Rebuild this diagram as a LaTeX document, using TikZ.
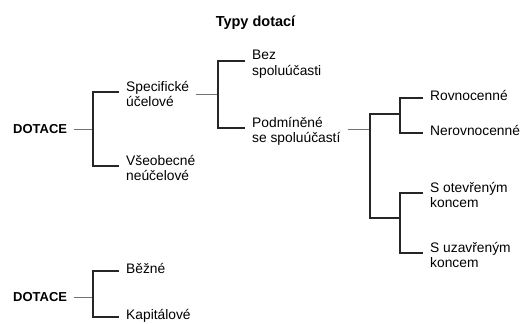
\documentclass[tikz,border=0pt]{standalone}
\usepackage{fontspec}
\setmainfont{Liberation Sans}
\begin{document}
\begin{tikzpicture}[x=1pt, y=-1pt,
    label/.style={anchor=north west, align=left, inner xsep=7pt, inner ysep=0pt,
      execute at begin node={\rule{0pt}{13pt}}, font=\fontsize{13.8}{15.5}\selectfont},
    root/.style={anchor=west, inner xsep=7pt, inner ysep=0pt, font=\fontsize{13}{15}\selectfont\bfseries},
    stem/.style={draw=black!55, line width=1pt},
    branch/.style={draw=black!85, line width=1.3pt}]
    \useasboundingbox (0,0) rectangle (523,324);
    \clip (0,0) rectangle (523,324);

    \node[font=\fontsize{14.5}{17}\selectfont\bfseries] (title) at (255.5,23) {Typy dotací};

    % first tree
    \node[root] (dot1) at (6,129) {DOTACE};
    \coordinate (j1) at (93,129);
    \node[label] (spec) at (119,81) {Specifické\\účelové};
    \node[label] (vseob) at (119,155) {Všeobecné\\neúčelové};
    \draw[stem] (dot1.east) -- (j1);
    \draw[branch] ([yshift=-11pt]spec.north west) -| (j1) |- ([yshift=-11pt]vseob.north west);

    \coordinate (j2) at (218,94);
    \node[label] (bez) at (245,50) {Bez\\spoluúčasti};
    \node[label] (podm) at (245,117) {Podmíněné\\se spoluúčastí};
    \draw[stem] ([yshift=-13pt]spec.north east) -- ([yshift=-13pt]spec.north east -| j2);
    \draw[branch] ([yshift=-11pt]bez.north west) -| (j2) |- ([yshift=-11pt]podm.north west);

    \coordinate (j3) at (370,129);
    \coordinate (ja) at (400,114);
    \coordinate (jb) at (400,218);
    \draw[stem] ([yshift=-12pt]podm.north east) -- ([yshift=-12pt]podm.north east -| j3);
    \draw[branch] (ja) -| (j3) |- (jb);

    \node[label] (rovn) at (423,87) {Rovnocenné};
    \node[label] (nerovn) at (423,122) {Nerovnocenné};
    \draw[branch] ([yshift=-11pt]rovn.north west) -| (ja) |- ([yshift=-11pt]nerovn.north west);

    \node[label] (otev) at (423,182) {S otevřeným\\koncem};
    \node[label] (uzav) at (423,242) {S uzavřeným\\koncem};
    \draw[branch] ([yshift=-11pt]otev.north west) -| (jb) |- ([yshift=-11pt]uzav.north west);

    % second tree
    \node[root] (dot2) at (6,297) {DOTACE};
    \coordinate (j4) at (93,297);
    \node[label] (bezne) at (119,260) {Běžné};
    \node[label] (kapit) at (119,306) {Kapitálové};
    \draw[stem] (dot2.east) -- (j4);
    \draw[branch] ([yshift=-11pt]bezne.north west) -| (j4) |- ([yshift=-11pt]kapit.north west);
\end{tikzpicture}
\end{document}
